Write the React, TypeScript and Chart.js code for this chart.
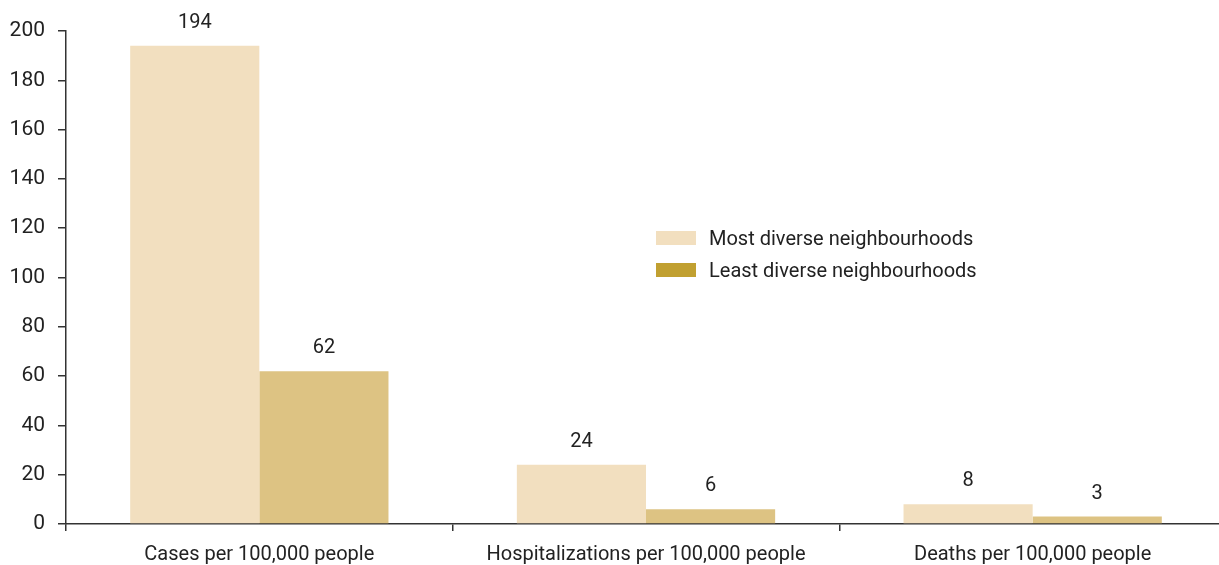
import React, { useEffect, useRef } from "react";
import { Chart, registerables } from "chart.js";

Chart.register(...registerables);

const categories = [
  "Cases per 100,000 people",
  "Hospitalizations per 100,000 people",
  "Deaths per 100,000 people",
];
const mostDiverse = [194, 24, 8];
const leastDiverse = [62, 6, 3];
const seriesNames = ["Most diverse neighbourhoods", "Least diverse neighbourhoods"];
const yTicks = [0, 20, 40, 60, 80, 100, 120, 140, 160, 180, 200];

const FONT = "Roboto, sans-serif";
const TEXT = "#222222";
const AXIS = "#333333";

const valueLabels = {
  id: "valueLabels",
  afterDatasetsDraw(chart: any) {
    const ctx = chart.ctx;
    ctx.save();
    ctx.font = `20px ${FONT}`;
    ctx.fillStyle = TEXT;
    ctx.textAlign = "center";
    ctx.textBaseline = "alphabetic";
    chart.data.datasets.forEach((ds: any, i: number) => {
      const meta = chart.getDatasetMeta(i);
      meta.data.forEach((bar: any, j: number) => {
        ctx.fillText(String(ds.data[j]), bar.x, bar.y - 18);
      });
    });
    ctx.restore();
  },
};

export default function App() {
  const ref = useRef<HTMLCanvasElement | null>(null);
  useEffect(() => {
    document.body.style.margin = "0";
    const chart = new Chart(ref.current!, {
      type: "bar",
      data: {
        labels: categories,
        datasets: [
          {
            label: seriesNames[0],
            data: mostDiverse,
            backgroundColor: "#F2DFBF",
            categoryPercentage: 0.668,
            barPercentage: 1,
          },
          {
            label: seriesNames[1],
            data: leastDiverse,
            backgroundColor: "#DDC383",
            categoryPercentage: 0.668,
            barPercentage: 1,
          },
        ],
      },
      options: {
        animation: false,
        responsive: false,
        devicePixelRatio: 1,
        layout: { padding: { top: 31, right: 0, left: 0, bottom: 0 } },
        plugins: { legend: { display: false }, tooltip: { enabled: false } },
        scales: {
          x: {
            offset: true,
            grid: {
              display: true,
              offset: true,
              drawOnChartArea: false,
              drawTicks: true,
              tickLength: 7,
              color: AXIS,
              lineWidth: 1.5,
            },
            border: { color: AXIS, width: 1.5 },
            ticks: { color: TEXT, font: { family: FONT, size: 20 }, padding: 12 },
            afterFit: (s: any) => {
              s.height = 41;
            },
          },
          y: {
            min: 0,
            max: 200,
            afterBuildTicks: (s: any) => {
              s.ticks = yTicks.map((v) => ({ value: v }));
            },
            grid: {
              display: true,
              drawOnChartArea: false,
              drawTicks: true,
              tickLength: 8,
              color: AXIS,
              lineWidth: 1.5,
            },
            border: { color: AXIS, width: 1.5 },
            ticks: { color: TEXT, font: { family: FONT, size: 21 }, padding: 13 },
            afterFit: (s: any) => {
              s.width = 66;
            },
          },
        },
      },
      plugins: [valueLabels],
    });
    return () => chart.destroy();
  }, []);

  const legendRow = (color: string, text: string, top: number) => (
    <div
      style={{
        position: "absolute",
        left: 656,
        top,
        display: "flex",
        alignItems: "center",
        fontFamily: FONT,
        fontSize: 20,
        color: TEXT,
        whiteSpace: "nowrap",
        lineHeight: "24px",
      }}
    >
      <span style={{ display: "inline-block", width: 40, height: 14, background: color, marginRight: 13 }} />
      <span>{text}</span>
    </div>
  );

  return (
    <div style={{ position: "relative", width: 1219, height: 565, overflow: "hidden" }}>
      <canvas ref={ref} width={1226} height={565} style={{ position: "absolute", left: 0, top: 0 }} />
      {legendRow("#F2DFBF", seriesNames[0], 226)}
      {legendRow("#C1A031", seriesNames[1], 258)}
    </div>
  );
}
